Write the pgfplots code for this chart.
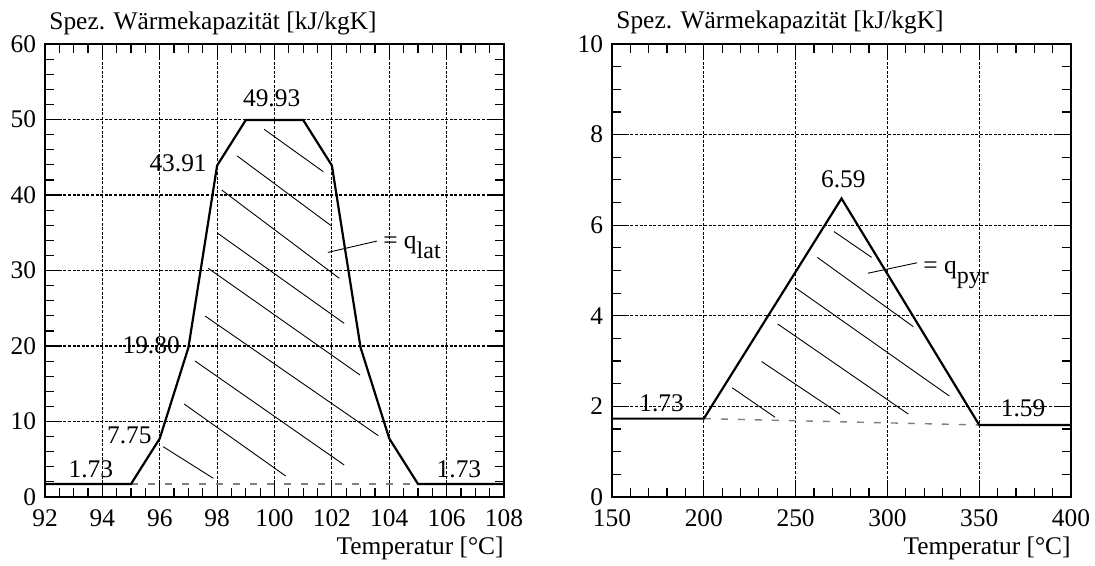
\documentclass[border=0pt]{standalone}
\usepackage{pgfplots}
\pgfplotsset{compat=1.18}
\usepackage{fontspec}
\setmainfont{Liberation Serif}
\begin{document}
\fontsize{12.7}{15}\selectfont
\begin{tikzpicture}
\useasboundingbox (0,0) rectangle (547.5pt,283pt);
\pgfplotsset{
 mystyle/.style={
  scale only axis, width=229.5pt, height=226.5pt, anchor=south west,
  axis line style={line width=0.8pt},
  tick align=inside, major tick length=7pt, minor tick length=4.5pt,
  tick style={black, line width=0.6pt},
  grid=major, major grid style={black, line width=0.6pt, dash pattern=on 1.5pt off 0.8pt},
  /pgf/number format/assume math mode=true,
  tick label style={font=\fontsize{12.7}{15}\selectfont},
  xticklabel style={yshift=-2pt},
  clip=false,
  unbounded coords=jump,
 },
 curve/.style={black, line width=1.1pt, no markers},
 hatch/.style={black, line width=0.45pt, no markers},
 base/.style={gray, line width=0.7pt, dash pattern=on 3.5pt off 5pt, no markers},
}
% ---------------- left panel ----------------
\begin{axis}[mystyle, at={(22.5pt,34.5pt)},
  xmin=92, xmax=108, ymin=0, ymax=60,
  xtick={92,94,...,108}, minor x tick num=3,
  ytick={0,10,...,60}, minor y tick num=4]
\addplot[base] coordinates {(95,1.73) (105,1.73)};
\addplot[hatch] table {
x y
99.64 48.70
101.70 43.09
nan nan
98.70 45.17
101.99 35.89
nan nan
98.16 40.66
102.26 28.96
nan nan
98.02 34.93
102.43 23.00
nan nan
97.69 30.29
102.98 16.16
nan nan
97.58 23.97
103.62 8.12
nan nan
97.23 18.01
102.43 4.24
nan nan
96.85 12.32
100.39 2.78
nan nan
96.12 6.66
97.87 2.47
nan nan
101.86 32.4
103.57 33.9
};
\addplot[curve] coordinates {(92,1.73) (95,1.73) (96,7.75) (97,19.80) (98,43.91) (99,49.93) (101,49.93) (102,43.91) (103,19.80) (104,7.75) (105,1.73) (108,1.73)};
\node[anchor=base, inner sep=0] at (axis cs:93.6,2.52) {1.73};
\node[anchor=base east, inner sep=0] at (axis cs:95.73,7.02) {7.75};
\node[anchor=base east, inner sep=0] at (axis cs:96.71,19.07) {19.80};
\node[anchor=base east, inner sep=0] at (axis cs:97.65,43.05) {43.91};
\node[anchor=base, inner sep=0] at (axis cs:99.9,51.66) {49.93};
\node[anchor=base, inner sep=0] at (axis cs:106.43,2.52) {1.73};
\node[anchor=base west, inner sep=0] at (axis cs:103.78,32.9) {= q\raisebox{-0.4em}{\fontsize{12}{12}\selectfont lat}};
\node[anchor=base west, inner sep=0, xshift=2pt, yshift=7.5pt] at (rel axis cs:0,1) {Spez. Wärmekapazität [kJ/kgK]};
\node[anchor=base east, inner sep=0, yshift=-28.5pt] at (rel axis cs:1,0) {Temperatur [°C]};
\end{axis}
% ---------------- right panel ----------------
\begin{axis}[mystyle, at={(306pt,34.5pt)},
  xmin=150, xmax=400, ymin=0, ymax=10,
  xtick={150,200,...,400}, minor x tick num=4,
  ytick={0,2,...,10}, minor y tick num=3]
\addplot[base] coordinates {(200,1.73) (350,1.59)};
\addplot[hatch] table {
x y
270.9 5.86
291.4 5.29
nan nan
261.8 5.29
314.1 3.76
nan nan
250.2 4.61
333.7 2.23
nan nan
240.2 3.82
311.4 1.83
nan nan
231.5 2.99
274.2 1.83
nan nan
215.5 2.41
238.8 1.76
nan nan
289.4 4.94
316.1 5.17
};
\addplot[curve] coordinates {(150,1.73) (200,1.73) (275,6.59) (350,1.59) (400,1.59)};
\node[anchor=base, inner sep=0] at (axis cs:177,1.88) {1.73};
\node[anchor=base, inner sep=0] at (axis cs:276,6.84) {6.59};
\node[anchor=base, inner sep=0] at (axis cs:373.9,1.77) {1.59};
\node[anchor=base west, inner sep=0] at (axis cs:319.4,4.93) {= q\raisebox{-0.4em}{\fontsize{12}{12}\selectfont pyr}};
\node[anchor=base west, inner sep=0, xshift=2pt, yshift=7.5pt] at (rel axis cs:0,1) {Spez. Wärmekapazität [kJ/kgK]};
\node[anchor=base east, inner sep=0, yshift=-28.5pt] at (rel axis cs:1,0) {Temperatur [°C]};
\end{axis}
\end{tikzpicture}
\end{document}
